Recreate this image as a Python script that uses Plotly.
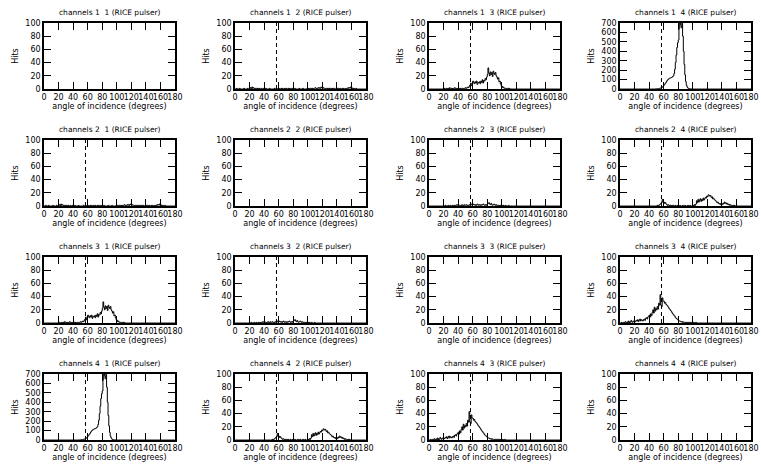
import plotly.graph_objects as go

# ---------------- data (1-degree bins, hits per bin) ----------------
angle_min, angle_max = 0, 180
cherenkov_angle = 57
x_tick_vals = [0, 20, 40, 60, 80, 100, 120, 140, 160, 180]
channels = [1, 2, 3, 4]

# channels 1-4 / 4-1 : bins starting at 48 deg
hits_14_start = 48
hits_14 = [1, 1, 2, 3, 4, 5, 7, 9, 12, 16, 22, 30, 40, 50, 60, 72, 85, 95, 103, 110,
           115, 118, 120, 125, 132, 140, 165, 210, 280, 360, 440, 490, 520, 640, 720,
           680, 650, 720, 560, 400, 260, 150, 80, 40, 20, 10, 5, 3, 2, 1, 1]

# channels 1-3 / 3-1 : bins starting at 20 deg
hits_13_start = 20
hits_13 = [0, 1, 0, 0, 1, 0, 1, 0, 2, 1, 1, 0, 1, 0, 1, 2, 1, 0, 1, 0,
           1, 1, 0, 1, 0, 1, 1, 0, 1, 1, 2, 1, 2, 3, 2, 4, 6, 9, 5, 7,
           12, 10, 8, 11, 9, 12, 7, 10, 9, 11, 8, 12, 10, 14, 9, 13, 12, 16, 14, 18,
           22, 32, 24, 20, 26, 22, 25, 19, 27, 24, 22, 25, 20, 18, 15, 17, 11, 12, 8, 5,
           4, 2, 3, 1, 1, 1, 0, 1, 1, 0, 1]

# channels 2-4 / 4-2 : bins starting at 50 deg
hits_24_start = 50
hits_24 = [0, 1, 0, 1, 2, 3, 4, 6, 10, 5, 6, 4, 5, 3, 2, 1, 2, 1, 0, 1,
           0, 1, 0, 1, 0, 0, 1, 0, 0, 1, 0, 0, 1, 0, 0, 0, 1, 0, 0, 1,
           0, 0, 0, 1, 0, 0, 1, 0, 0, 0, 1, 0, 2, 1, 3, 8, 5, 10, 6, 9,
           11, 7, 10, 8, 12, 9, 11, 13, 12, 15, 14, 17, 16, 15, 16, 13, 14, 11, 12, 10,
           9, 8, 7, 5, 6, 4, 3, 4, 2, 3, 2, 4, 3, 6, 4, 5, 3, 4, 2, 3,
           1, 2, 1, 1, 0, 1, 0, 1]

# channels 3-4 / 4-3 : bins starting at 0 deg
hits_34_start = 0
hits_34 = [0, 0, 1, 0, 0, 1, 0, 2, 1, 0, 1, 3, 0, 2, 1, 4, 2, 1, 3, 2,
           3, 2, 4, 3, 5, 2, 4, 6, 3, 5, 4, 3, 5, 6, 4, 7, 8, 6, 9, 10,
           12, 9, 14, 11, 16, 20, 15, 24, 18, 22, 20, 25, 21, 30, 27, 43, 27, 25, 38, 33,
           33, 30, 31, 28, 27, 26, 24, 22, 21, 19, 18, 16, 14, 13, 11, 10, 8, 7, 6, 5,
           4, 3, 3, 2, 2, 1, 2, 1, 1, 1, 0, 1, 1, 0, 1, 1, 0, 1, 0, 1,
           0, 1, 0, 0, 1, 0]

# channels 1-2 / 2-1 : bins starting at 0 deg
hits_12_start = 0
hits_12 = [0, 0, 1, 0, 0, 0, 1, 0, 0, 0, 0, 0, 1, 0, 0, 0, 0, 1, 0, 0,
           1, 2, 0, 3, 1, 2, 1, 0, 1, 1, 0, 1, 0, 1, 0, 0, 1, 0, 0, 1,
           0, 0, 1, 0, 0, 0, 0, 1, 0, 0, 0, 0, 0, 0, 1, 0, 0, 1, 0, 0,
           1, 0, 0, 1, 0, 1, 0, 0, 1, 0, 1, 0, 0, 1, 0, 1, 0, 0, 1, 0,
           0, 0, 1, 0, 0, 0, 0, 0, 1, 0, 0, 0, 0, 1, 0, 0, 0, 0, 0, 1,
           0, 1, 0, 1, 1, 0, 1, 0, 1, 1, 2, 1, 0, 1, 2, 1, 2, 1, 3, 2,
           1, 2, 1, 1, 0, 1, 1, 0, 1, 0, 1, 1, 0, 1, 0, 1, 1, 0, 0, 1,
           0, 1, 1, 0, 1, 0, 0, 1, 0, 1, 0, 0, 1, 0, 1, 2, 1, 2, 3, 1,
           2, 1, 0, 1, 0, 0, 1, 0, 0, 0]

# channels 2-3 / 3-2 : bins starting at 20 deg
hits_23_start = 20
hits_23 = [0, 0, 1, 0, 0, 0, 1, 0, 0, 1, 0, 0, 1, 0, 1, 0, 1, 1, 2, 1,
           2, 1, 1, 0, 1, 2, 1, 0, 2, 1, 1, 2, 1, 0, 1, 2, 1, 2, 3, 1,
           2, 3, 2, 1, 2, 1, 3, 2, 1, 2, 1, 2, 1, 2, 3, 2, 1, 2, 1, 2,
           3, 4, 5, 3, 2, 4, 2, 1, 2, 3, 2, 1, 2, 1, 0, 1, 1, 0, 1, 0,
           1, 0, 1, 0, 0, 1, 0, 0, 0, 1, 0]

y_max_small = 100
y_max_large = 700

# (row channel, column channel) -> (start, hits, y_max)
panel_data = {
    (1, 2): (hits_12_start, hits_12, y_max_small),
    (2, 1): (hits_12_start, hits_12, y_max_small),
    (1, 3): (hits_13_start, hits_13, y_max_small),
    (3, 1): (hits_13_start, hits_13, y_max_small),
    (1, 4): (hits_14_start, hits_14, y_max_large),
    (4, 1): (hits_14_start, hits_14, y_max_large),
    (2, 3): (hits_23_start, hits_23, y_max_small),
    (3, 2): (hits_23_start, hits_23, y_max_small),
    (2, 4): (hits_24_start, hits_24, y_max_small),
    (4, 2): (hits_24_start, hits_24, y_max_small),
    (3, 4): (hits_34_start, hits_34, y_max_small),
    (4, 3): (hits_34_start, hits_34, y_max_small),
}

# ---------------- layout geometry (pixels) ----------------
W, H = 761, 466
col_px = [(44, 175), (235, 366), (429, 560), (620, 751)]
row_px = [(23, 89), (140, 206), (257, 323), (374, 440)]

FONT = "DejaVu Sans"
fig = go.Figure()
annotations = []

idx = 0
for r, ch_a in enumerate(channels):
    for c, ch_b in enumerate(channels):
        idx += 1
        xa = "x" if idx == 1 else f"x{idx}"
        ya = "y" if idx == 1 else f"y{idx}"
        start, hits, ymax = panel_data.get((ch_a, ch_b), (0, [], y_max_small))

        if (ch_a, ch_b) in panel_data:
            full = [0] * (angle_max - angle_min)
            for k, v in enumerate(hits):
                full[start + k] = v
            edges = list(range(angle_min, angle_max + 1))
            yvals = full + [full[-1]]
            fig.add_trace(go.Scatter(
                x=edges, y=yvals, mode="lines", line_shape="hv",
                line=dict(color="black", width=1),
                xaxis=xa, yaxis=ya, showlegend=False, hoverinfo="skip"))
            fig.add_trace(go.Scatter(
                x=[cherenkov_angle, cherenkov_angle], y=[0, ymax], mode="lines",
                line=dict(color="black", width=1, dash="4px,3px"),
                xaxis=xa, yaxis=ya, showlegend=False, hoverinfo="skip"))
        else:
            # empty histogram panel: keep the axes drawn
            fig.add_trace(go.Scatter(
                x=[None], y=[None], mode="lines",
                xaxis=xa, yaxis=ya, showlegend=False, hoverinfo="skip"))

        x0, x1 = col_px[c]
        t, b = row_px[r]
        xdom = [x0 / W, x1 / W]
        ydom = [1 - b / H, 1 - t / H]
        axis_common = dict(
            showline=True, linecolor="black", linewidth=1.5, mirror="allticks",
            ticks="inside", ticklen=7, tickwidth=1, tickcolor="black",
            showgrid=False, zeroline=False, tickangle=0, automargin=False,
            tickfont=dict(family=FONT, size=8, color="black"),
        )
        xkey = "xaxis" if idx == 1 else f"xaxis{idx}"
        ykey = "yaxis" if idx == 1 else f"yaxis{idx}"
        fig.update_layout(**{
            xkey: dict(domain=xdom, anchor=ya, range=[angle_min, angle_max],
                       tickvals=x_tick_vals, ticktext=[str(v) for v in x_tick_vals],
                       title=dict(text="angle of incidence (degrees)", standoff=2,
                                  font=dict(family=FONT, size=8, color="black")),
                       **axis_common),
            ykey: dict(domain=ydom, anchor=xa, range=[0, ymax],
                       dtick=20 if ymax == y_max_small else 100,
                       title=dict(text="Hits", standoff=6,
                                  font=dict(family=FONT, size=8, color="black")),
                       **axis_common),
        })
        annotations.append(dict(
            text=f"channels {ch_a} \u00a0{ch_b} (RICE pulser)",
            xref="paper", yref="paper", x=(xdom[0] + xdom[1]) / 2, y=ydom[1],
            xanchor="center", yanchor="bottom", yshift=4, showarrow=False,
            font=dict(family=FONT, size=7.5, color="black")))

fig.update_layout(
    width=W, height=H, margin=dict(l=0, r=0, t=0, b=0, autoexpand=False),
    paper_bgcolor="white", plot_bgcolor="white",
    annotations=annotations,
)
fig.write_html("out.html")
